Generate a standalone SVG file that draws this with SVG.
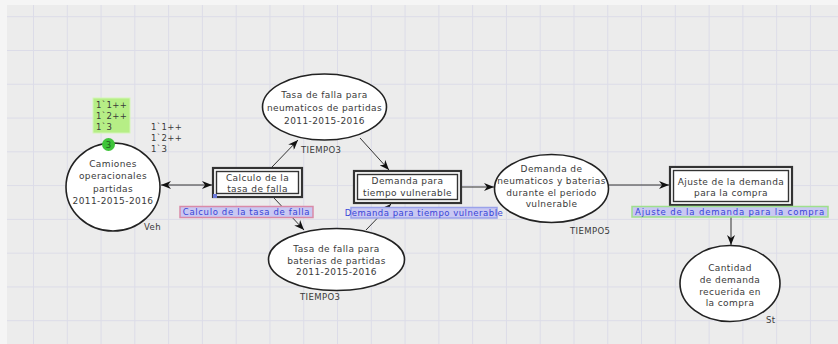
<svg xmlns="http://www.w3.org/2000/svg" width="838" height="344" viewBox="0 0 838 344">
  <defs>
    <pattern id="grid" patternUnits="userSpaceOnUse" x="33" y="16.2" width="33.78" height="33.78">
      <rect width="33.78" height="33.78" fill="#ececec"/>
      <line x1="0" y1="0" x2="0" y2="33.78" stroke="#dcdce8" stroke-width="2"/>
      <line x1="0" y1="0" x2="33.78" y2="0" stroke="#dcdce8" stroke-width="2"/>
    </pattern>
    <marker id="arrow" viewBox="0 0 10 8" refX="10" refY="4" markerWidth="10" markerHeight="8" markerUnits="userSpaceOnUse" orient="auto-start-reverse">
      <path d="M0,0 L10,4 L0,8 L3,4 z" fill="#111"/>
    </marker>
    <style>
      text { font-family: "DejaVu Sans", "Liberation Sans", sans-serif; fill: #3a3a3a; }
      .place { fill: #ffffff; stroke: #222; stroke-width: 1.6; }
      .node-text { font-size: 9px; text-anchor: middle; letter-spacing: 0.4px; }
      .outer { fill: #ffffff; stroke: #333; stroke-width: 2.2; }
      .inner { fill: #ffffff; stroke: #333; stroke-width: 1.4; }
      .sublabel { font-size: 8.5px; text-anchor: middle; fill: #3845d8; letter-spacing: 0.5px; }
      .arc { fill: none; stroke: #333; stroke-width: 1; marker-end: url(#arrow); }
      .mark { font-size: 8.5px; letter-spacing: 0.4px; }
    </style>
  </defs>

  <!-- canvas -->
  <rect width="838" height="344" fill="#f5f5f5"/>
  <rect x="7" y="5" width="831" height="339" fill="url(#grid)"/>

  <!-- connectors -->
  <g id="connectors">
    <line class="arc" x1="161" y1="185" x2="212" y2="185" marker-start="url(#arrow)"/>
    <line class="arc" x1="272" y1="167" x2="298" y2="140"/>
    <line class="arc" x1="274" y1="198" x2="304" y2="230"/>
    <line class="arc" x1="360" y1="138" x2="389" y2="170"/>
    <line class="arc" x1="366" y1="230" x2="391" y2="204"/>
    <line class="arc" x1="462" y1="187" x2="494" y2="187"/>
    <line class="arc" x1="609" y1="185" x2="669" y2="185"/>
    <line class="arc" x1="731" y1="206" x2="731" y2="245"/>
  </g>

  <!-- place: Camiones operacionales -->
  <g id="place-camiones">
    <ellipse class="place" cx="113" cy="187" rx="47" ry="44"/>
    <text class="node-text" x="113" y="167">Camiones</text>
    <text class="node-text" x="113" y="179">operacionales</text>
    <text class="node-text" x="113" y="192">partidas</text>
    <text class="node-text" x="113" y="204">2011-2015-2016</text>
    <text class="mark" x="144" y="230">Veh</text>
    <text class="mark" x="151" y="130">1`1++</text>
    <text class="mark" x="151" y="141">1`2++</text>
    <text class="mark" x="151" y="152">1`3</text>
  </g>

  <!-- token count and current marking -->
  <g id="marking-camiones">
    <rect x="93" y="98" width="37" height="35" fill="#b6ee86" stroke="#d4f5b8" stroke-width="1"/>
    <text class="mark" x="96" y="108">1`1++</text>
    <text class="mark" x="96" y="119">1`2++</text>
    <text class="mark" x="96" y="130">1`3</text>
    <circle cx="108.5" cy="144.5" r="6.5" fill="#3fc43a"/>
    <text x="108.5" y="148" font-size="8.5" text-anchor="middle" style="fill:#1d5e1a">3</text>
  </g>

  <!-- transition: Calculo de la tasa de falla -->
  <g id="trans-calculo">
    <rect class="outer" x="213" y="168" width="89" height="29"/>
    <rect class="inner" x="216.5" y="171.5" width="82" height="22"/>
    <rect x="213" y="194" width="4" height="4" fill="#6a78d8"/>
    <text class="node-text" x="257.5" y="181">Calculo de la</text>
    <text class="node-text" x="257.5" y="192">tasa de falla</text>
    <rect x="180" y="206.5" width="133" height="11" fill="#c9c8f2" stroke="#d98aa8" stroke-width="1.5"/>
    <text class="sublabel" x="246.5" y="215" style="letter-spacing:0.65px">Calculo de la tasa de falla</text>
  </g>

  <!-- place: Tasa de falla neumaticos -->
  <g id="place-neumaticos">
    <ellipse class="place" cx="324.5" cy="107" rx="62" ry="33"/>
    <text class="node-text" x="324.5" y="98">Tasa de falla para</text>
    <text class="node-text" x="324.5" y="111">neumaticos de partidas</text>
    <text class="node-text" x="324.5" y="124">2011-2015-2016</text>
    <text class="mark" x="301" y="153">TIEMPO3</text>
  </g>

  <!-- place: Tasa de falla baterias -->
  <g id="place-baterias">
    <ellipse class="place" cx="336.5" cy="259.5" rx="68" ry="31"/>
    <text class="node-text" x="336.5" y="252">Tasa de falla para</text>
    <text class="node-text" x="336.5" y="264">baterias de partidas</text>
    <text class="node-text" x="336.5" y="275">2011-2015-2016</text>
    <text class="mark" x="300" y="300">TIEMPO3</text>
  </g>

  <!-- transition: Demanda para tiempo vulnerable -->
  <g id="trans-demanda">
    <rect class="outer" x="354" y="171" width="107" height="32"/>
    <rect class="inner" x="357.5" y="174.5" width="100" height="25"/>
    <text class="node-text" x="407.5" y="184">Demanda para</text>
    <text class="node-text" x="407.5" y="196">tiempo vulnerable</text>
    <rect x="351" y="207.5" width="146" height="10.5" fill="#c9c8f2" stroke="#9aa2ea" stroke-width="1.5"/>
    <text class="sublabel" x="424" y="215.5">Demanda para tiempo vulnerable</text>
  </g>

  <!-- place: Demanda en periodo vulnerable -->
  <g id="place-periodo">
    <ellipse class="place" cx="551.5" cy="188.5" rx="57" ry="34"/>
    <text class="node-text" x="551.5" y="172">Demanda de</text>
    <text class="node-text" x="551.5" y="184">neumaticos y baterias</text>
    <text class="node-text" x="551.5" y="196">durante el periodo</text>
    <text class="node-text" x="551.5" y="207">vulnerable</text>
    <text class="mark" x="570" y="234">TIEMPO5</text>
  </g>

  <!-- transition: Ajuste de la demanda -->
  <g id="trans-ajuste">
    <rect class="outer" x="670" y="167" width="122" height="38"/>
    <rect class="inner" x="673.5" y="170.5" width="115" height="31"/>
    <text class="node-text" x="731" y="185">Ajuste de la demanda</text>
    <text class="node-text" x="731" y="196">para la compra</text>
    <rect x="632" y="206.5" width="196" height="10.5" fill="#c9c8f2" stroke="#9fe08c" stroke-width="1.5"/>
    <text class="sublabel" x="730" y="214.5" style="letter-spacing:0.85px">Ajuste de la demanda para la compra</text>
  </g>

  <!-- place: Cantidad de demanda -->
  <g id="place-cantidad">
    <ellipse class="place" cx="730" cy="283.5" rx="50" ry="38"/>
    <text class="node-text" x="730" y="271">Cantidad</text>
    <text class="node-text" x="730" y="283">de demanda</text>
    <text class="node-text" x="730" y="295">recuerida en</text>
    <text class="node-text" x="730" y="306">la compra</text>
    <text class="mark" x="766" y="323">St</text>
  </g>
</svg>
